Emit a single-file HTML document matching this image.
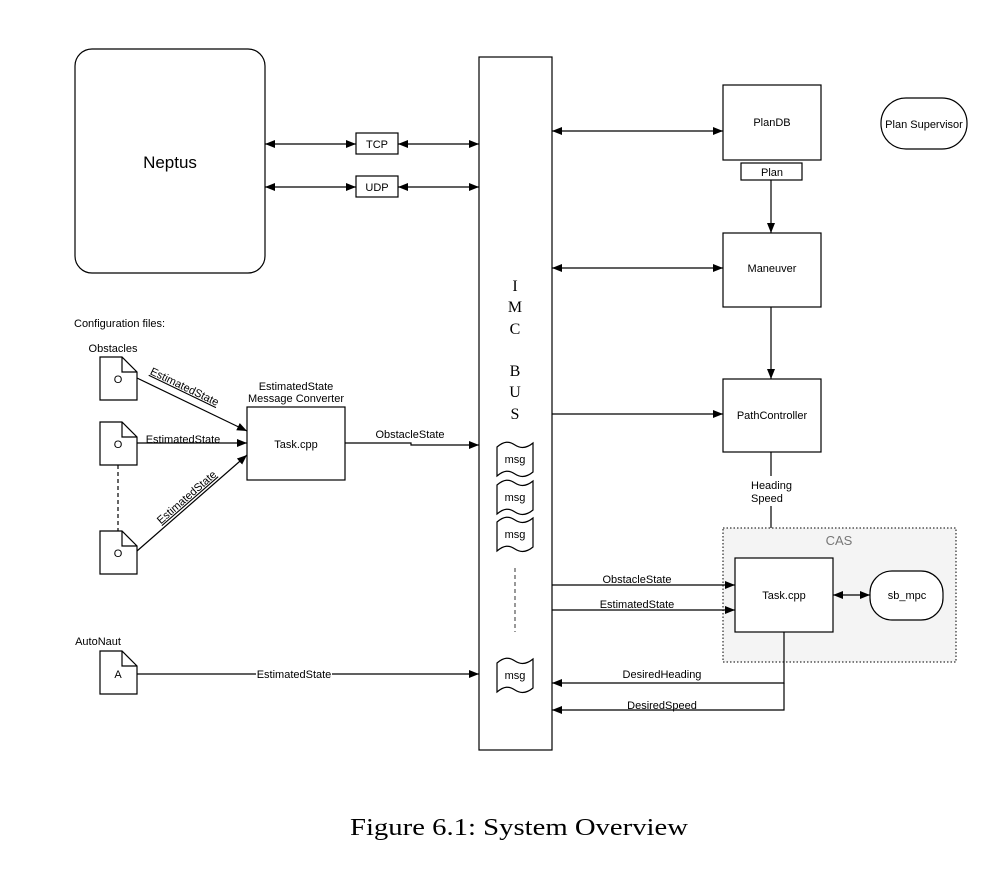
<!DOCTYPE html>
<html><head><meta charset="utf-8"><style>
html,body{margin:0;padding:0;background:#fff;}
svg{display:block;}
text{font-family:"Liberation Sans",sans-serif;font-size:11px;fill:#000;}
</style></head><body>
<svg width="1005" height="877" viewBox="0 0 1005 877" xmlns="http://www.w3.org/2000/svg">
<defs>
<marker id="a" viewBox="0 0 10 8" refX="10" refY="4" markerWidth="10" markerHeight="8" markerUnits="userSpaceOnUse" orient="auto-start-reverse"><path d="M0,0 L10,4 L0,8 Z" fill="#000"/></marker>
</defs>
<g fill="none" stroke="#000" stroke-width="1.2">
<rect x="75" y="49" width="190" height="224" rx="17" fill="#fff"/>
<rect x="356" y="133" width="42" height="21"/>
<rect x="356" y="176" width="42" height="21"/>
<line x1="265" y1="144" x2="356" y2="144" marker-start="url(#a)" marker-end="url(#a)"/>
<line x1="398" y1="144" x2="479" y2="144" marker-start="url(#a)" marker-end="url(#a)"/>
<line x1="265" y1="187" x2="356" y2="187" marker-start="url(#a)" marker-end="url(#a)"/>
<line x1="398" y1="187" x2="479" y2="187" marker-start="url(#a)" marker-end="url(#a)"/>
<rect x="479" y="57" width="73" height="693"/>
<rect x="723" y="85" width="98" height="75"/>
<rect x="741" y="163" width="61" height="17"/>
<rect x="881" y="98" width="86" height="51" rx="25"/>
<rect x="723" y="233" width="98" height="74"/>
<rect x="723" y="379" width="98" height="73"/>
<line x1="552" y1="131" x2="723" y2="131" marker-start="url(#a)" marker-end="url(#a)"/>
<line x1="552" y1="268" x2="723" y2="268" marker-start="url(#a)" marker-end="url(#a)"/>
<line x1="552" y1="414" x2="723" y2="414" marker-end="url(#a)"/>
<line x1="771" y1="180" x2="771" y2="233" marker-end="url(#a)"/>
<line x1="771" y1="307" x2="771" y2="379" marker-end="url(#a)"/>
<line x1="771" y1="452" x2="771" y2="476"/>
<line x1="771" y1="506" x2="771" y2="558" marker-end="url(#a)"/>
<rect x="723" y="528" width="233" height="134" fill="#f4f4f4" stroke-dasharray="1.5,2" stroke-width="1"/>
<rect x="735" y="558" width="98" height="74" fill="#fff"/>
<rect x="870" y="571" width="73" height="49" rx="22" fill="#fff"/>
<line x1="833" y1="595" x2="870" y2="595" marker-start="url(#a)" marker-end="url(#a)"/>
<line x1="552" y1="585" x2="735" y2="585" marker-end="url(#a)"/>
<line x1="552" y1="610" x2="735" y2="610" marker-end="url(#a)"/>
<polyline points="784,632 784,683 552,683" marker-end="url(#a)"/>
<polyline points="784,683 784,710 552,710" marker-end="url(#a)"/>
<g id="m"><path d="M497,447 C504,441 509,441 515,445 C521,449 527,448 533,443 L533,472 C527,477 521,478 515,474 C509,470 504,470 497,476 Z" fill="#fff"/></g>
<use href="#m" y="38"/>
<use href="#m" y="75"/>
<use href="#m" y="216"/>
<line x1="515" y1="568" x2="515" y2="632" stroke-dasharray="4,3" stroke="#555"/>
<g id="d"><path d="M100,357 L122,357 L137,372 L137,400 L100,400 Z M122,357 L122,372 L137,372" fill="#fff"/></g>
<use href="#d" y="65"/>
<use href="#d" y="174"/>
<use href="#d" y="294"/>
<line x1="118" y1="465" x2="118" y2="531" stroke-dasharray="4,3"/>
<rect x="247" y="407" width="98" height="73"/>
<line x1="137" y1="378" x2="247" y2="431" marker-end="url(#a)"/>
<line x1="137" y1="443" x2="247" y2="443" marker-end="url(#a)"/>
<line x1="137" y1="551" x2="247" y2="455" marker-end="url(#a)"/>
<polyline points="345,443 411,443 411,445 479,445" marker-end="url(#a)"/>
<line x1="137" y1="674" x2="479" y2="674" marker-end="url(#a)"/>
</g>
<g text-anchor="middle">
<text x="170" y="168" style="font-size:17px">Neptus</text>
<text x="377" y="148">TCP</text>
<text x="377" y="191">UDP</text>
<text x="772" y="126">PlanDB</text>
<text x="772" y="176">Plan</text>
<text x="924" y="128">Plan Supervisor</text>
<text x="772" y="272">Maneuver</text>
<text x="772" y="419">PathController</text>
<text x="784" y="599">Task.cpp</text>
<text x="907" y="599">sb_mpc</text>
<text x="839" y="545" style="fill:#777;font-size:13px">CAS</text>
<text x="637" y="583">ObstacleState</text>
<text x="637" y="608">EstimatedState</text>
<text x="662" y="678">DesiredHeading</text>
<text x="662" y="709">DesiredSpeed</text>
<text x="296" y="448">Task.cpp</text>
<text x="296" y="390">EstimatedState</text>
<text x="296" y="402">Message Converter</text>
<text x="118" y="383">O</text>
<text x="118" y="448">O</text>
<text x="118" y="557">O</text>
<text x="118" y="678">A</text>
<text x="113" y="352">Obstacles</text>
<text x="98" y="645">AutoNaut</text>
<text x="410" y="438">ObstacleState</text>
<text x="515" y="463">msg</text>
<text x="515" y="501">msg</text>
<text x="515" y="538">msg</text>
<text x="515" y="679">msg</text>
</g>
<rect x="256" y="668" width="76" height="12" fill="#fff"/>
<text x="294" y="678" text-anchor="middle">EstimatedState</text>
<text x="183" y="443" text-anchor="middle">EstimatedState</text>
<text x="183" y="390" text-anchor="middle" transform="rotate(25.7 183 390)" text-decoration="underline">EstimatedState</text>
<text x="189" y="500" text-anchor="middle" transform="rotate(-41 189 500)" text-decoration="underline">EstimatedState</text>
<text x="74" y="327">Configuration files:</text>
<text x="751" y="489">Heading</text>
<text x="751" y="502">Speed</text>
<g text-anchor="middle">
<text x="515" y="291" style="font-family:'Liberation Serif',serif;font-size:16px">I</text>
<text x="515" y="312" style="font-family:'Liberation Serif',serif;font-size:16px">M</text>
<text x="515" y="334" style="font-family:'Liberation Serif',serif;font-size:16px">C</text>
<text x="515" y="376" style="font-family:'Liberation Serif',serif;font-size:16px">B</text>
<text x="515" y="397" style="font-family:'Liberation Serif',serif;font-size:16px">U</text>
<text x="515" y="419" style="font-family:'Liberation Serif',serif;font-size:16px">S</text>
</g>
<text x="350" y="835" textLength="338" lengthAdjust="spacingAndGlyphs" style="font-family:'Liberation Serif',serif;font-size:24px">Figure 6.1: System Overview</text>
</svg>
</body></html>
